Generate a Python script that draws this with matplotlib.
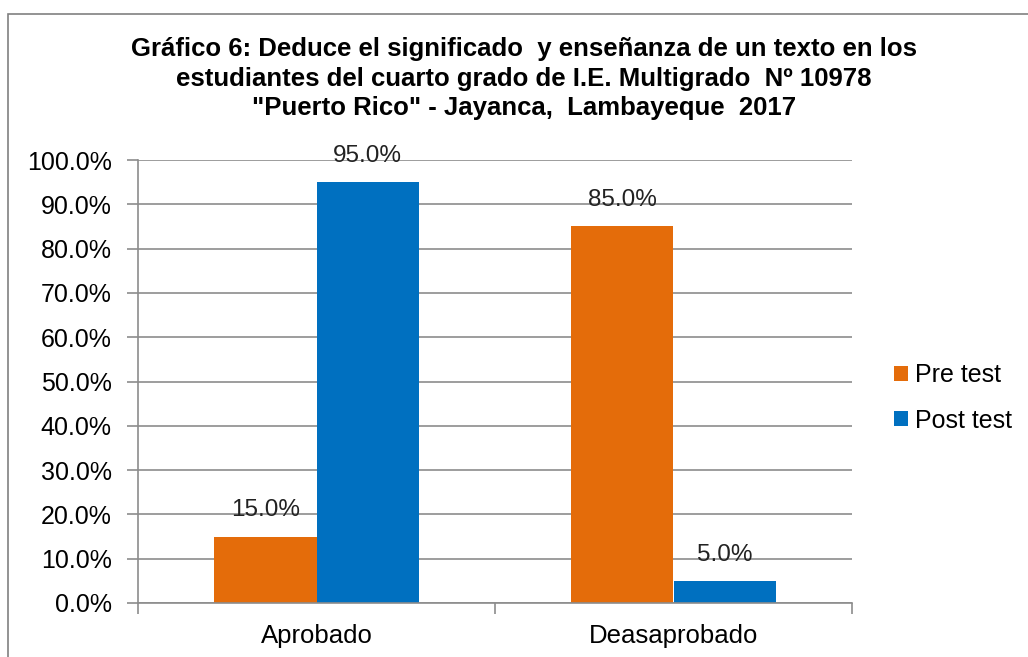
import matplotlib.pyplot as plt
import matplotlib.patches as mpatches
import numpy as np

plt.rcParams["font.family"] = ["Liberation Sans", "DejaVu Sans"]

categories = ["Aprobado", "Deasaprobado"]
series_names = ["Pre test", "Post test"]
pre_test = [15.0, 85.0]
post_test = [95.0, 5.0]
colors = ["#E46C0A", "#0070C0"]
title = ("Gráfico 6: Deduce el significado  y enseñanza de un texto en los\n"
         "estudiantes del cuarto grado de I.E. Multigrado  Nº 10978\n"
         "\"Puerto Rico\" - Jayanca,  Lambayeque  2017")

fig = plt.figure(figsize=(10.28, 6.57), dpi=100)

# marco del gráfico
fig.patches.append(mpatches.Rectangle((8 / 1028, -0.1), 1.1, 1 - 14 / 657 + 0.1,
                                      transform=fig.transFigure, fill=False,
                                      edgecolor="#808080", linewidth=1.2))

ax = fig.add_axes([138 / 1028, 1 - 603 / 657, 714 / 1028, 443 / 657])

x = np.arange(len(categories))
w = 0.286
for i, (vals, name) in enumerate(zip([pre_test, post_test], series_names)):
    bars = ax.bar(x + (i - 0.5) * w, vals, w, color=colors[i], label=name, zorder=2)
    for b, v in zip(bars, vals):
        ax.text(b.get_x() + b.get_width() / 2, v + 3.4, f"{v:.1f}%",
                ha="center", va="bottom", fontsize=17.5, color="#222222", zorder=3)

ax.set_xlim(-0.5, 1.5)
ax.set_ylim(0, 100)
ax.set_yticks(np.arange(0, 101, 10))
ax.set_yticklabels([f"{v:.1f}%" for v in np.arange(0, 101, 10)], fontsize=18)
ax.yaxis.grid(True, color="#8c8c8c", linewidth=1.2, zorder=0)
ax.set_axisbelow(True)

ax.set_xticks([-0.5, 0.5, 1.5])
ax.set_xticklabels([])
ax.set_xticks(x, minor=True)
ax.set_xticklabels(categories, minor=True, fontsize=18.5)
ax.tick_params(axis="x", which="minor", length=0, pad=15)
ax.tick_params(axis="x", which="major", length=8, color="#8c8c8c", width=1.2)
ax.tick_params(axis="y", length=8, color="#8c8c8c", width=1.2, pad=11)

for s in ["top", "right"]:
    ax.spines[s].set_visible(False)
for s in ["left", "bottom"]:
    ax.spines[s].set_color("#8c8c8c")
    ax.spines[s].set_linewidth(1.2)

fig.text(524 / 1028, 1 - 37 / 657, title, ha="center", va="top",
         fontsize=18.5, fontweight="bold", linespacing=1.3)

fig.legend(loc="center left", bbox_to_anchor=(894 / 1028, 1 - 398 / 657),
           frameon=False, fontsize=18, handlelength=0.55, handleheight=0.55,
           handletextpad=0.3, labelspacing=0.85, borderpad=0, borderaxespad=0)

plt.savefig("out.png", dpi=100)
